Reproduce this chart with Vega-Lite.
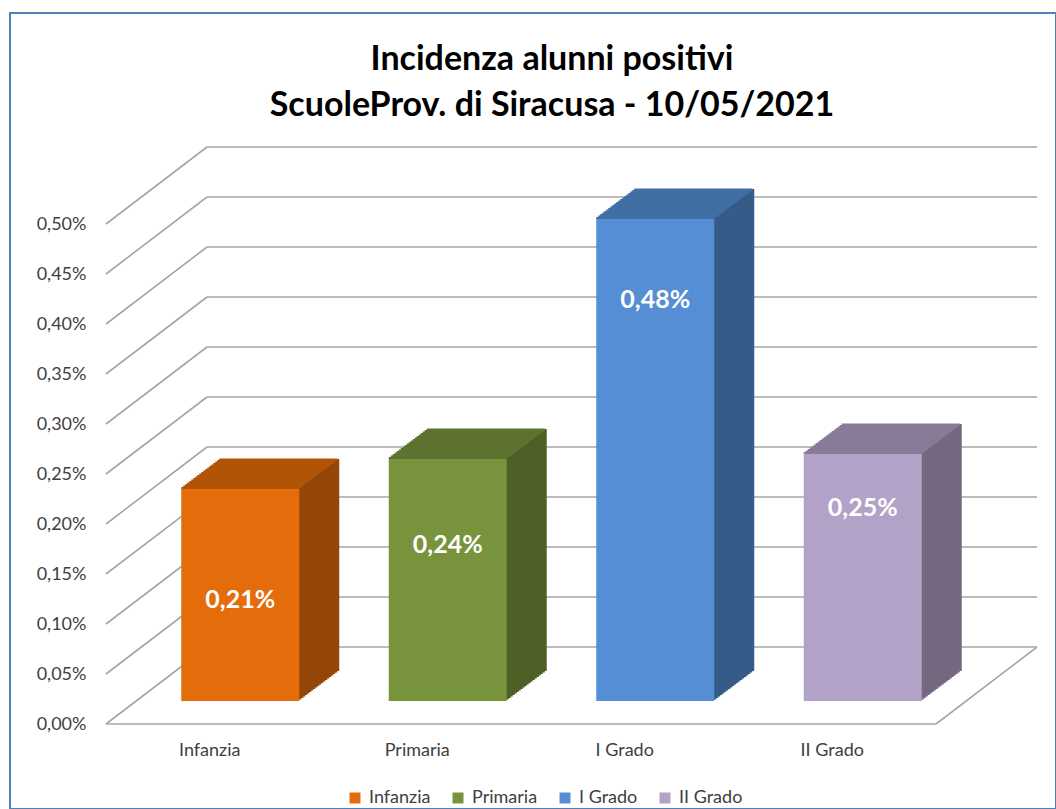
{
"$schema": "https://vega.github.io/schema/vega-lite/v6.json",
"width": 1046,
"height": 796,
"autosize": {"type": "none"},
"padding": {"left": 10, "top": 13, "right": 0, "bottom": 0},
"background": "white",
"config": {
  "font": "Lato",
  "locale": {"number": {"decimal": ",", "thousands": ".", "grouping": [3], "currency": ["€", ""]}},
  "view": {"stroke": "#4f81bd", "strokeWidth": 2},
  "axis": {"labelFont": "Lato", "labelFontSize": 18, "labelColor": "#404040", "grid": false, "domain": false, "ticks": false}
},
"title": {
  "text": ["Incidenza alunni positivi", "ScuoleProv. di Siracusa - 10/05/2021"],
  "font": "Lato", "fontSize": 34, "fontWeight": "bold", "color": "#000000", "lineHeight": 46,
  "anchor": "middle", "frame": "group", "offset": -110, "dx": 19
},
"datasets": {
  "bars": [
    {"categoria": "Infanzia", "incidenza": 0.00212},
    {"categoria": "Primaria", "incidenza": 0.00242},
    {"categoria": "I Grado", "incidenza": 0.00482},
    {"categoria": "II Grado", "incidenza": 0.00247}
  ],
  "livelli": [
    {"livello": 0}, {"livello": 0.0005}, {"livello": 0.001}, {"livello": 0.0015}, {"livello": 0.002},
    {"livello": 0.0025}, {"livello": 0.003}, {"livello": 0.0035}, {"livello": 0.004}, {"livello": 0.0045}, {"livello": 0.005}
  ]
},
"resolve": {"scale": {"x": "independent", "color": "independent"}},
"layer": [
  {
    "data": {"name": "livelli"},
    "layer": [
      {
        "mark": {"type": "rule", "color": "#a6a6a6", "strokeWidth": 1.6, "xOffset": 101, "x2Offset": 101, "yOffset": -77},
        "encoding": {
          "x": {"datum": 0, "type": "quantitative", "scale": {"domain": [0, 1], "range": [96, 926]}, "axis": null},
          "x2": {"datum": 1},
          "y": {"field": "livello", "type": "quantitative", "title": null,
                "scale": {"domain": [0, 0.005], "range": [711, 211]},
                "axis": {"orient": "left", "offset": -96, "labelPadding": 20, "format": ".2%",
                         "values": [0, 0.0005, 0.001, 0.0015, 0.002, 0.0025, 0.003, 0.0035, 0.004, 0.0045, 0.005]}}
        }
      },
      {
        "mark": {"type": "rule", "color": "#a6a6a6", "strokeWidth": 1.6, "x2Offset": 101, "y2Offset": -77},
        "encoding": {
          "x": {"datum": 0, "type": "quantitative", "scale": {"domain": [0, 1], "range": [96, 926]}, "axis": null},
          "x2": {"datum": 0},
          "y": {"field": "livello", "type": "quantitative", "title": null},
          "y2": {"field": "livello"}
        }
      },
      {
        "transform": [{"filter": "datum.livello == 0"}],
        "mark": {"type": "rule", "color": "#a6a6a6", "strokeWidth": 1.6},
        "encoding": {
          "x": {"datum": 0, "type": "quantitative", "scale": {"domain": [0, 1], "range": [96, 926]}, "axis": null},
          "x2": {"datum": 1},
          "y": {"field": "livello", "type": "quantitative", "title": null}
        }
      },
      {
        "transform": [{"filter": "datum.livello == 0"}],
        "mark": {"type": "rule", "color": "#a6a6a6", "strokeWidth": 1.6, "x2Offset": 101, "y2Offset": -77},
        "encoding": {
          "x": {"datum": 1, "type": "quantitative", "scale": {"domain": [0, 1], "range": [96, 926]}, "axis": null},
          "x2": {"datum": 1},
          "y": {"field": "livello", "type": "quantitative", "title": null},
          "y2": {"field": "livello"}
        }
      }
    ]
  },
  {
    "data": {"name": "bars"},
    "encoding": {
      "x": {"field": "categoria", "type": "nominal", "sort": null, "scale": {"range": [96, 926], "paddingInner": 0, "paddingOuter": 0}, "axis": null},
      "y": {"field": "incidenza", "type": "quantitative", "title": null},
      "y2": {"datum": 0},
      "color": {"field": "categoria", "type": "nominal", "sort": null, "legend": null,
                "scale": {"domain": ["Infanzia", "Primaria", "I Grado", "II Grado"], "range": ["#944608", "#4c6027", "#365b89", "#746981"]}}
    },
    "layer": [
      {"mark": {"type": "bar", "width": 118, "xOffset": 70.5, "yOffset": -53, "y2Offset": -53}},
      {"mark": {"type": "bar", "width": 118, "xOffset": 68.5, "yOffset": -51.5, "y2Offset": -51.5}},
      {"mark": {"type": "bar", "width": 118, "xOffset": 66.5, "yOffset": -50, "y2Offset": -50}},
      {"mark": {"type": "bar", "width": 118, "xOffset": 64.5, "yOffset": -48.5, "y2Offset": -48.5}},
      {"mark": {"type": "bar", "width": 118, "xOffset": 62.5, "yOffset": -47, "y2Offset": -47}},
      {"mark": {"type": "bar", "width": 118, "xOffset": 60.5, "yOffset": -45.5, "y2Offset": -45.5}},
      {"mark": {"type": "bar", "width": 118, "xOffset": 58.5, "yOffset": -44, "y2Offset": -44}},
      {"mark": {"type": "bar", "width": 118, "xOffset": 56.5, "yOffset": -42.5, "y2Offset": -42.5}},
      {"mark": {"type": "bar", "width": 118, "xOffset": 54.5, "yOffset": -41, "y2Offset": -41}},
      {"mark": {"type": "bar", "width": 118, "xOffset": 52.5, "yOffset": -39.5, "y2Offset": -39.5}},
      {"mark": {"type": "bar", "width": 118, "xOffset": 50.5, "yOffset": -38, "y2Offset": -38}},
      {"mark": {"type": "bar", "width": 118, "xOffset": 48.5, "yOffset": -36.5, "y2Offset": -36.5}},
      {"mark": {"type": "bar", "width": 118, "xOffset": 46.5, "yOffset": -35, "y2Offset": -35}},
      {"mark": {"type": "bar", "width": 118, "xOffset": 44.5, "yOffset": -33.5, "y2Offset": -33.5}},
      {"mark": {"type": "bar", "width": 118, "xOffset": 42.5, "yOffset": -32, "y2Offset": -32}},
      {"mark": {"type": "bar", "width": 118, "xOffset": 40.5, "yOffset": -30.5, "y2Offset": -30.5}},
      {"mark": {"type": "bar", "width": 118, "xOffset": 38.5, "yOffset": -29, "y2Offset": -29}},
      {"mark": {"type": "bar", "width": 118, "xOffset": 36.5, "yOffset": -27.5, "y2Offset": -27.5}},
      {"mark": {"type": "bar", "width": 118, "xOffset": 34.5, "yOffset": -26, "y2Offset": -26}},
      {"mark": {"type": "bar", "width": 118, "xOffset": 32.5, "yOffset": -24.5, "y2Offset": -24.5}}
    ]
  },
  {
    "data": {"name": "bars"},
    "encoding": {
      "x": {"field": "categoria", "type": "nominal", "sort": null, "scale": {"range": [96, 926], "paddingInner": 0, "paddingOuter": 0}, "axis": null},
      "y": {"field": "incidenza", "type": "quantitative", "title": null},
      "y2": {"field": "incidenza"},
      "color": {"field": "categoria", "type": "nominal", "sort": null, "legend": null,
                "scale": {"domain": ["Infanzia", "Primaria", "I Grado", "II Grado"], "range": ["#b15407", "#5d732f", "#416ea4", "#887b98"]}}
    },
    "layer": [
      {"mark": {"type": "bar", "width": 118, "xOffset": 68.5, "yOffset": -53.5, "y2Offset": -51}},
      {"mark": {"type": "bar", "width": 118, "xOffset": 66.5, "yOffset": -52, "y2Offset": -49.5}},
      {"mark": {"type": "bar", "width": 118, "xOffset": 64.5, "yOffset": -50.5, "y2Offset": -48}},
      {"mark": {"type": "bar", "width": 118, "xOffset": 62.5, "yOffset": -49, "y2Offset": -46.5}},
      {"mark": {"type": "bar", "width": 118, "xOffset": 60.5, "yOffset": -47.5, "y2Offset": -45}},
      {"mark": {"type": "bar", "width": 118, "xOffset": 58.5, "yOffset": -46, "y2Offset": -43.5}},
      {"mark": {"type": "bar", "width": 118, "xOffset": 56.5, "yOffset": -44.5, "y2Offset": -42}},
      {"mark": {"type": "bar", "width": 118, "xOffset": 54.5, "yOffset": -43, "y2Offset": -40.5}},
      {"mark": {"type": "bar", "width": 118, "xOffset": 52.5, "yOffset": -41.5, "y2Offset": -39}},
      {"mark": {"type": "bar", "width": 118, "xOffset": 50.5, "yOffset": -40, "y2Offset": -37.5}},
      {"mark": {"type": "bar", "width": 118, "xOffset": 48.5, "yOffset": -38.5, "y2Offset": -36}},
      {"mark": {"type": "bar", "width": 118, "xOffset": 46.5, "yOffset": -37, "y2Offset": -34.5}},
      {"mark": {"type": "bar", "width": 118, "xOffset": 44.5, "yOffset": -35.5, "y2Offset": -33}},
      {"mark": {"type": "bar", "width": 118, "xOffset": 42.5, "yOffset": -34, "y2Offset": -31.5}},
      {"mark": {"type": "bar", "width": 118, "xOffset": 40.5, "yOffset": -32.5, "y2Offset": -30}},
      {"mark": {"type": "bar", "width": 118, "xOffset": 38.5, "yOffset": -31, "y2Offset": -28.5}},
      {"mark": {"type": "bar", "width": 118, "xOffset": 36.5, "yOffset": -29.5, "y2Offset": -27}},
      {"mark": {"type": "bar", "width": 118, "xOffset": 34.5, "yOffset": -28, "y2Offset": -25.5}},
      {"mark": {"type": "bar", "width": 118, "xOffset": 32.5, "yOffset": -26.5, "y2Offset": -24}},
      {"mark": {"type": "bar", "width": 118, "xOffset": 30.5, "yOffset": -25, "y2Offset": -22.5}}
    ]
  },
  {
    "data": {"name": "bars"},
    "mark": {"type": "bar", "width": 118, "xOffset": 30.5, "yOffset": -23, "y2Offset": -23},
    "encoding": {
      "x": {"field": "categoria", "type": "nominal", "sort": null, "title": null,
            "scale": {"range": [96, 926], "paddingInner": 0, "paddingOuter": 0},
            "axis": {"orient": "bottom", "offset": -85, "labelPadding": 17, "labelAngle": 0}},
      "y": {"field": "incidenza", "type": "quantitative", "title": null},
      "y2": {"datum": 0},
      "color": {"field": "categoria", "type": "nominal", "sort": null,
                "scale": {"domain": ["Infanzia", "Primaria", "I Grado", "II Grado"], "range": ["#e46c0a", "#77933c", "#558ed5", "#b3a2c7"]},
                "legend": {"title": null, "orient": "none", "legendX": 336, "legendY": 776, "direction": "horizontal",
                           "symbolType": "square", "symbolSize": 121, "symbolStrokeWidth": 0, "labelFontSize": 18,
                           "labelColor": "#404040", "labelFont": "Lato", "columnPadding": 18, "labelOffset": 5}}
    }
  },
  {
    "data": {"name": "bars"},
    "transform": [{"filter": "datum.categoria == 'Infanzia'"}],
    "mark": {"type": "text", "xOffset": 30.5, "yOffset": -23, "dy": 111, "fontSize": 25, "fontWeight": "bold", "color": "white", "baseline": "middle", "font": "Lato"},
    "encoding": {
      "x": {"field": "categoria", "type": "nominal", "sort": null, "scale": {"domain": ["Infanzia", "Primaria", "I Grado", "II Grado"], "range": [96, 926], "paddingInner": 0, "paddingOuter": 0}, "axis": null},
      "y": {"field": "incidenza", "type": "quantitative", "title": null},
      "text": {"field": "incidenza", "type": "quantitative", "format": ".2%"}
    }
  },
  {
    "data": {"name": "bars"},
    "transform": [{"filter": "datum.categoria == 'Primaria'"}],
    "mark": {"type": "text", "xOffset": 30.5, "yOffset": -23, "dy": 86, "fontSize": 25, "fontWeight": "bold", "color": "white", "baseline": "middle", "font": "Lato"},
    "encoding": {
      "x": {"field": "categoria", "type": "nominal", "sort": null, "scale": {"domain": ["Infanzia", "Primaria", "I Grado", "II Grado"], "range": [96, 926], "paddingInner": 0, "paddingOuter": 0}, "axis": null},
      "y": {"field": "incidenza", "type": "quantitative", "title": null},
      "text": {"field": "incidenza", "type": "quantitative", "format": ".2%"}
    }
  },
  {
    "data": {"name": "bars"},
    "transform": [{"filter": "datum.categoria == 'I Grado'"}],
    "mark": {"type": "text", "xOffset": 30.5, "yOffset": -23, "dy": 81, "fontSize": 25, "fontWeight": "bold", "color": "white", "baseline": "middle", "font": "Lato"},
    "encoding": {
      "x": {"field": "categoria", "type": "nominal", "sort": null, "scale": {"domain": ["Infanzia", "Primaria", "I Grado", "II Grado"], "range": [96, 926], "paddingInner": 0, "paddingOuter": 0}, "axis": null},
      "y": {"field": "incidenza", "type": "quantitative", "title": null},
      "text": {"field": "incidenza", "type": "quantitative", "format": ".2%"}
    }
  },
  {
    "data": {"name": "bars"},
    "transform": [{"filter": "datum.categoria == 'II Grado'"}],
    "mark": {"type": "text", "xOffset": 30.5, "yOffset": -23, "dy": 54, "fontSize": 25, "fontWeight": "bold", "color": "white", "baseline": "middle", "font": "Lato"},
    "encoding": {
      "x": {"field": "categoria", "type": "nominal", "sort": null, "scale": {"domain": ["Infanzia", "Primaria", "I Grado", "II Grado"], "range": [96, 926], "paddingInner": 0, "paddingOuter": 0}, "axis": null},
      "y": {"field": "incidenza", "type": "quantitative", "title": null},
      "text": {"field": "incidenza", "type": "quantitative", "format": ".2%"}
    }
  }
]
}
